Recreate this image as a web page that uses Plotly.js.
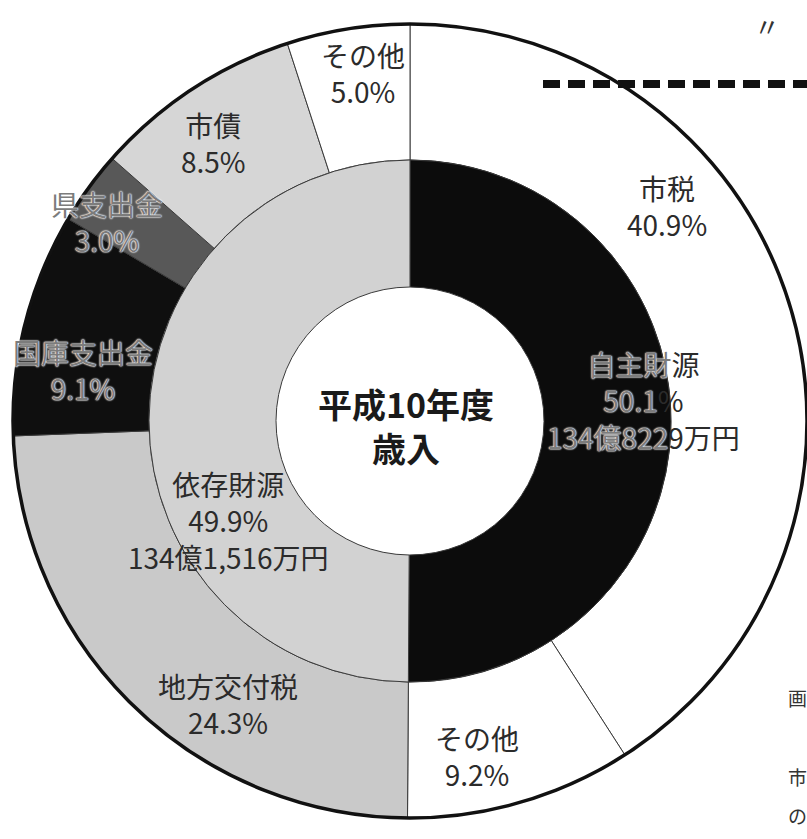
<!DOCTYPE html>
<html>
<head>
<meta charset="utf-8">
<script src="https://cdn.plot.ly/plotly-3.0.1.min.js"></script>
<style>html,body{margin:0;padding:0;background:#fff;overflow:hidden;}#chart{width:807px;height:839px;}</style>
</head>
<body>
<div id="chart"></div>
<script>
// ---- data ----
const outerLabels = ['市税', 'その他', '地方交付税', '国庫支出金', '県支出金', '市債', 'その他'];
const outerValues = [40.9, 9.2, 24.3, 9.1, 3.0, 8.5, 5.0];
const innerLabels = ['自主財源', '依存財源'];
const innerValues = [50.1, 49.9];
const innerAmounts = ['134億8229万円', '134億1,516万円'];
const centerLines = ['平成10年度', '歳入'];
const fragmentTexts = ['〃', '画', '市', 'の'];

// ---- geometry / style ----
const W = 807, H = 839;
const CX = 410, CY = 421, R_OUT = 397, R_MID = 261, R_IN = 134;
const px = x => x / W, py = y => 1 - y / H;

const outerColors = ['#ffffff', '#ffffff', '#c9c9c9', '#0f0f0f', '#585858', '#d6d6d6', '#ffffff'];
const innerColors = ['#0c0c0c', '#d2d2d2'];

const outerTrace = {
  type: 'pie',
  labels: outerLabels.map((l, i) => i + '_' + l),
  values: outerValues,
  sort: false,
  direction: 'clockwise',
  rotation: 0,
  hole: R_MID / R_OUT,
  textinfo: 'none',
  hoverinfo: 'none',
  marker: { colors: outerColors, line: { color: '#3a3a3a', width: 1 } },
  domain: { x: [px(CX - R_OUT), Math.min(1, px(CX + R_OUT))], y: [py(CY + R_OUT), py(CY - R_OUT)] }
};
const innerTrace = {
  type: 'pie',
  labels: innerLabels.map((l, i) => 'in' + i + '_' + l),
  values: innerValues,
  sort: false,
  direction: 'clockwise',
  rotation: 0,
  hole: R_IN / R_MID,
  textinfo: 'none',
  hoverinfo: 'none',
  marker: { colors: innerColors, line: { color: '#3a3a3a', width: 1 } },
  domain: { x: [px(CX - R_MID), px(CX + R_MID)], y: [py(CY + R_MID), py(CY - R_MID)] }
};

// label centres (pixels) and look
const outerLabelPos = [[667, 206], [477, 756], [228, 704], [83, 370], [107, 222], [213, 143], [363, 73]];
const outerOnDark = [false, false, false, true, true, false, false];
const innerLabelPos = [[643, 400], [228, 520]];
// characters (per line) lying on the black ring for the 自主財源 label; the rest sits on white
const innerDarkChars = [[3, 4, 7], null];

const FAM = 'Noto Sans CJK JP, Noto Sans, sans-serif';
const baseFont = { family: FAM, size: 28, color: '#2b2b2b' };
const darkFont = Object.assign({}, baseFont, { color: '#7c7c7c', shadow: '0 0 2px #ffffff, 0 0 2px #ffffff, 0 0 1px #ffffff' });
const LIGHT_ON_DARK = 'color:#7c7c7c;text-shadow:0 0 2px #fff,0 0 2px #fff,0 0 1px #fff';

const annotations = [];
outerLabels.forEach((l, i) => {
  annotations.push({
    xref: 'paper', yref: 'paper', x: px(outerLabelPos[i][0]), y: py(outerLabelPos[i][1]),
    xanchor: 'center', yanchor: 'middle', showarrow: false,
    text: l + '<br>' + outerValues[i].toFixed(1) + '%',
    font: outerOnDark[i] ? darkFont : baseFont
  });
});
innerLabels.forEach((l, i) => {
  const lines = [l, innerValues[i].toFixed(1) + '%', innerAmounts[i]];
  const split = innerDarkChars[i];
  const text = lines.map((s, k) => split
    ? '<span style="' + LIGHT_ON_DARK + '">' + s.slice(0, split[k]) + '</span>' + s.slice(split[k])
    : s).join('<br>');
  annotations.push({
    xref: 'paper', yref: 'paper', x: px(innerLabelPos[i][0]), y: py(innerLabelPos[i][1]),
    xanchor: 'center', yanchor: 'middle', showarrow: false,
    text: text, font: baseFont
  });
});
annotations.push({
  xref: 'paper', yref: 'paper', x: px(406), y: py(425), xanchor: 'center', yanchor: 'middle', showarrow: false,
  text: centerLines.join('<br>'),
  font: { family: FAM, size: 34, color: '#1a1a1a', weight: 700 }
});
// fragments of neighbouring print at the page edge
const fragPos = [[752, 26, 26], [786, 697, 19], [786, 776, 19], [786, 815, 19]];
fragmentTexts.forEach((t, i) => {
  annotations.push({
    xref: 'paper', yref: 'paper', x: px(fragPos[i][0]), y: py(fragPos[i][1]), xanchor: 'left', yanchor: 'middle', showarrow: false,
    text: t, font: { family: FAM, size: fragPos[i][2], color: '#333' }
  });
});

const shapes = [
  { type: 'circle', xref: 'paper', yref: 'paper', layer: 'above',
    x0: px(CX - R_OUT), x1: px(CX + R_OUT), y0: py(CY + R_OUT), y1: py(CY - R_OUT),
    line: { color: '#111', width: 3.5 } },
  { type: 'line', xref: 'paper', yref: 'paper', layer: 'above',
    x0: px(543), x1: px(807), y0: py(84), y1: py(84),
    line: { color: '#111', width: 8, dash: '17px,8px' } }
];

const layout = {
  width: W, height: H,
  margin: { l: 0, r: 0, t: 0, b: 0 },
  paper_bgcolor: '#ffffff',
  showlegend: false,
  annotations: annotations,
  shapes: shapes
};

Plotly.newPlot('chart', [outerTrace, innerTrace], layout, { staticPlot: true, displayModeBar: false });
</script>
</body>
</html>
